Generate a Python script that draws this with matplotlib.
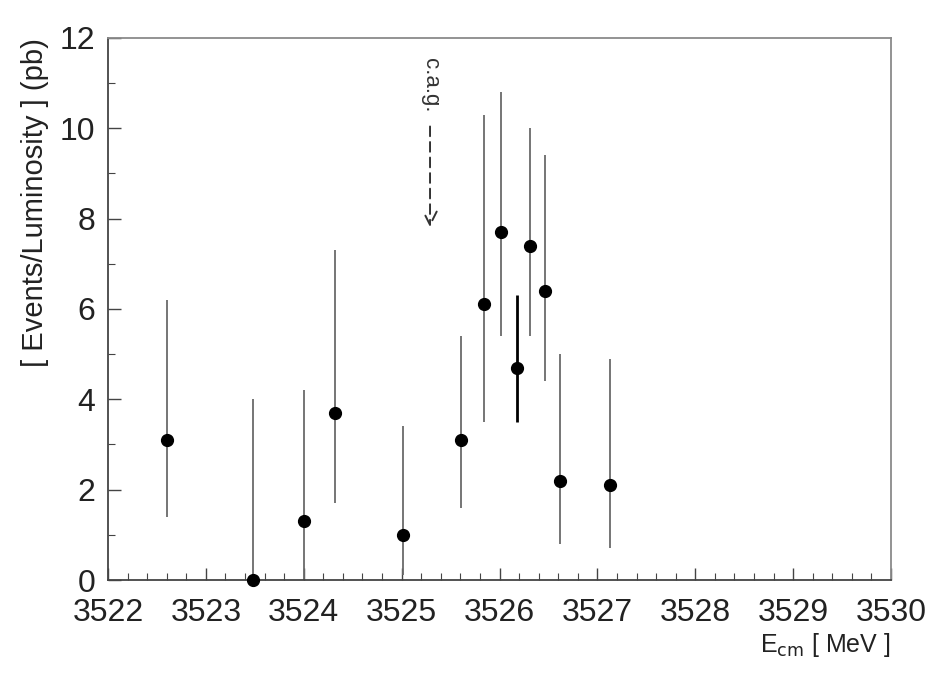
import matplotlib
matplotlib.use("Agg")
import matplotlib.pyplot as plt
from matplotlib.ticker import MultipleLocator

# data
energy = [3522.60, 3523.48, 3524.00, 3524.32, 3525.01, 3525.61, 3525.84,
          3526.02, 3526.18, 3526.31, 3526.46, 3526.62, 3527.13]
rate = [3.1, 0.0, 1.3, 3.7, 1.0, 3.1, 6.1, 7.7, 4.7, 7.4, 6.4, 2.2, 2.1]
err_lo = [1.4, 0.0, 0.0, 1.7, 0.1, 1.6, 3.5, 5.4, 3.5, 5.4, 4.4, 0.8, 0.7]
err_hi = [6.2, 4.0, 4.2, 7.3, 3.4, 5.4, 10.3, 10.8, 6.3, 10.0, 9.4, 5.0, 4.9]
cag_energy = 3525.29

plt.rcParams["font.family"] = ["Liberation Sans", "DejaVu Sans"]

fig = plt.figure(figsize=(9.35, 6.76), dpi=100)
ax = fig.add_axes([0.1155, 0.142, 0.8375, 0.802])

for i, (x, y) in enumerate(zip(energy, rate)):
    dark = i == 8
    ax.vlines(x, err_lo[i], err_hi[i], color="black" if dark else "#6a6a6a",
              lw=2.0 if dark else 1.3, zorder=2)
ax.plot(energy, rate, "o", color="black", ms=8.5, zorder=3, clip_on=False)

# c.a.g. marker
ax.annotate("", xy=(cag_energy, 7.75), xytext=(cag_energy, 10.1),
            arrowprops=dict(arrowstyle="->", color="#333333", lw=1.4,
                            linestyle=(0, (5, 3)), mutation_scale=24))
ax.text(cag_energy, 10.35, "c.a.g.", rotation=270, ha="center", va="bottom",
        fontsize=16, color="#333333")

ax.set_xlim(3522, 3530)
ax.set_ylim(0, 12)
ax.xaxis.set_major_locator(MultipleLocator(1))
ax.xaxis.set_minor_locator(MultipleLocator(0.2))
ax.yaxis.set_major_locator(MultipleLocator(2))
ax.yaxis.set_minor_locator(MultipleLocator(1))
ax.tick_params(which="both", direction="in", top=False, right=False,
               color="#444444", labelsize=23, labelcolor="#222222")
ax.tick_params(which="major", length=9, width=1.0)
ax.tick_params(which="minor", length=5, width=0.8)
ax.tick_params(axis="x", which="major", pad=13)
ax.tick_params(axis="y", which="major", pad=9)

for side in ("left", "bottom"):
    ax.spines[side].set_color("#444444")
    ax.spines[side].set_linewidth(1.3)
for side in ("top", "right"):
    ax.spines[side].set_color("#8a8a8a")
    ax.spines[side].set_linewidth(1.3)

ax.set_xlabel(r"E$_{\rm cm}$ [ MeV ]", fontsize=18, loc="right", labelpad=2,
              color="#222222")
ax.set_ylabel("[ Events/Luminosity ] (pb)", fontsize=21, loc="top",
              labelpad=8, color="#222222")

fig.savefig("out.png", dpi=100)
